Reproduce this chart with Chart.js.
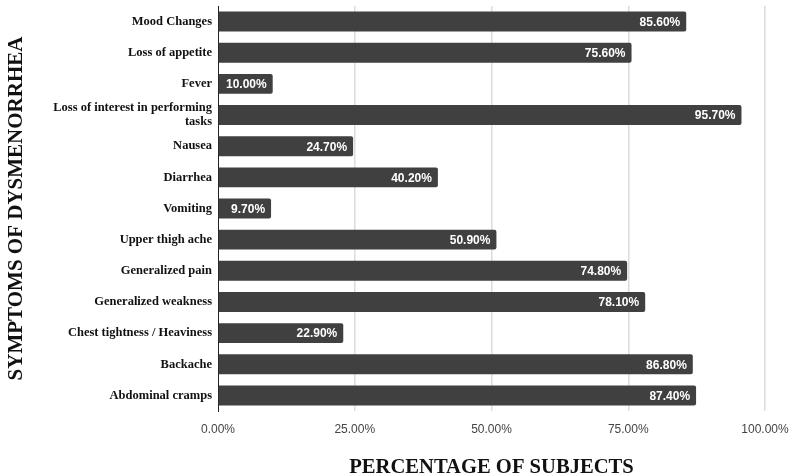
<!DOCTYPE html>
<html>
<head>
<meta charset="utf-8">
<script src="https://cdn.jsdelivr.net/npm/chart.js@4/dist/chart.umd.min.js"></script>
<style>
  html, body { margin: 0; padding: 0; background: #fff; }
  #wrap { width: 790px; height: 476px; }
</style>
</head>
<body>
<div id="wrap"><canvas id="symptomChart" width="790" height="476"></canvas></div>
<script>
const symptoms = [
  "Mood Changes",
  "Loss of appetite",
  "Fever",
  ["Loss of interest in performing", "tasks"],
  "Nausea",
  "Diarrhea",
  "Vomiting",
  "Upper thigh ache",
  "Generalized pain",
  "Generalized weakness",
  "Chest tightness / Heaviness",
  "Backache",
  "Abdominal cramps"
];
const percentages = [85.6, 75.6, 10.0, 95.7, 24.7, 40.2, 9.7, 50.9, 74.8, 78.1, 22.9, 86.8, 87.4];
const xTicks = [0, 25, 50, 75, 100];

const serif = "'Liberation Serif', 'Times New Roman', serif";
const sans = "'Liberation Sans', Arial, sans-serif";

// white % labels inside the bar ends
const barLabels = {
  id: "barLabels",
  afterDatasetsDraw(chart) {
    const ctx = chart.ctx;
    const meta = chart.getDatasetMeta(0);
    ctx.save();
    ctx.font = "bold 12px " + sans;
    ctx.fillStyle = "#ffffff";
    ctx.textAlign = "right";
    ctx.textBaseline = "middle";
    meta.data.forEach((bar, i) => {
      ctx.fillText(percentages[i].toFixed(2) + "%", bar.x - 6, bar.y + 1);
    });
    ctx.restore();
  }
};

new Chart(document.getElementById("symptomChart"), {
  type: "bar",
  data: {
    labels: symptoms,
    datasets: [{
      data: percentages,
      backgroundColor: "#404040",
      borderRadius: 2,
      borderSkipped: "start",
      categoryPercentage: 1,
      barPercentage: 0.64
    }]
  },
  options: {
    indexAxis: "y",
    responsive: false,
    animation: false,
    devicePixelRatio: 1,
    layout: { padding: { top: 6, right: 0, left: 4, bottom: 0 } },
    plugins: {
      legend: { display: false },
      tooltip: { enabled: false }
    },
    scales: {
      x: {
        min: 0,
        max: 100,
        afterBuildTicks: s => { s.ticks = xTicks.map(v => ({ value: v })); },
        afterFit: s => { s.paddingRight = 25; s.paddingLeft = 0; },
        grid: {
          color: ctx => ctx.tick && ctx.tick.value === 0 ? "rgba(0,0,0,0)" : "#dcdcdc",
          lineWidth: 1.5,
          drawTicks: false
        },
        border: { display: false },
        ticks: {
          padding: 11,
          color: "#444",
          font: { family: sans, size: 12 },
          callback: v => v.toFixed(2) + "%"
        },
        title: {
          display: true,
          text: "PERCENTAGE OF SUBJECTS",
          color: "#111",
          font: { family: serif, size: 20.6, weight: "bold", lineHeight: 1.0 },
          padding: { top: 10, bottom: -2 }
        }
      },
      y: {
        afterFit: s => { s.width = 214; s.paddingTop = 0; s.paddingBottom = 0; },
        grid: { display: false, drawTicks: false },
        border: { display: true, color: "#222", width: 1 },
        ticks: {
          autoSkip: false,
          padding: 6,
          color: "#111",
          font: { family: serif, size: 12.5, weight: "bold", lineHeight: 1.1 }
        },
        title: {
          display: true,
          text: "SYMPTOMS OF DYSMENORRHEA",
          color: "#111",
          font: { family: serif, size: 21, weight: "bold" },
          padding: { top: 0, bottom: 0 }
        }
      }
    }
  },
  plugins: [barLabels]
});
</script>
</body>
</html>
